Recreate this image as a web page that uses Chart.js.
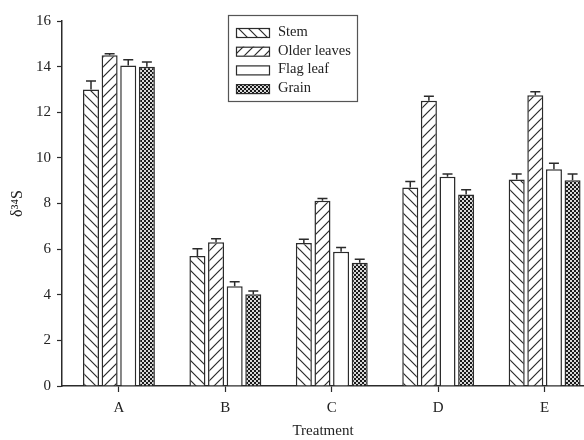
<!DOCTYPE html>
<html>
<head>
<meta charset="utf-8">
<script src="https://cdn.jsdelivr.net/npm/chart.js@4"></script>
<style>
  html, body { margin: 0; padding: 0; background: #fff; overflow: hidden; }
  #wrap { width: 584px; height: 440px; }
</style>
</head>
<body>
<div id="wrap"><canvas id="chart"></canvas></div>
<script>
// treatments on the x axis
const treatments = ["A", "B", "C", "D", "E"];
const yTicks = [0, 2, 4, 6, 8, 10, 12, 14, 16];

// mean d34S per tissue
const stem = [13.0, 5.7, 6.27, 8.7, 9.05];
const olderLeaves = [14.5, 6.3, 8.12, 12.5, 12.75];
const flagLeaf = [14.05, 4.37, 5.88, 9.17, 9.5];
const grain = [14.0, 4.02, 5.4, 8.4, 9.02];

// error bar (upper) size
const stemErr = [0.37, 0.32, 0.16, 0.26, 0.24];
const olderErr = [0.06, 0.16, 0.1, 0.2, 0.15];
const flagErr = [0.25, 0.2, 0.19, 0.12, 0.26];
const grainErr = [0.2, 0.14, 0.16, 0.2, 0.27];

const ink = "#2b2b2b";
const serif = "'Liberation Serif', 'Times New Roman', serif";

const makeTile = (size, draw) => {
  const c = document.createElement("canvas");
  c.width = size;
  c.height = size;
  const ctx = c.getContext("2d");
  ctx.fillStyle = "#fff";
  ctx.fillRect(0, 0, size, size);
  draw(ctx);
  return document.createElement("canvas").getContext("2d").createPattern(c, "repeat");
};

const hatch = (dir) =>
  makeTile(10, (ctx) => {
    ctx.strokeStyle = ink;
    ctx.lineWidth = 1.2;
    ctx.beginPath();
    if (dir > 0) {
      // "\" lines
      ctx.moveTo(-2, -2); ctx.lineTo(12, 12);
      ctx.moveTo(-2, 8); ctx.lineTo(2, 12);
      ctx.moveTo(8, -2); ctx.lineTo(12, 2);
    } else {
      // "/" lines
      ctx.moveTo(-2, 12); ctx.lineTo(12, -2);
      ctx.moveTo(-2, 2); ctx.lineTo(2, -2);
      ctx.moveTo(8, 12); ctx.lineTo(12, 8);
    }
    ctx.stroke();
  });

const checker = makeTile(4, (ctx) => {
  ctx.fillStyle = "#d8d8d8";
  ctx.fillRect(0, 0, 4, 4);
  ctx.fillStyle = "#1a1a1a";
  ctx.fillRect(0, 0, 2, 2);
  ctx.fillRect(2, 2, 2, 2);
});

const series = [
  { label: "Stem", values: stem, errs: stemErr, fill: hatch(1) },
  { label: "Older leaves", values: olderLeaves, errs: olderErr, fill: hatch(-1) },
  { label: "Flag leaf", values: flagLeaf, errs: flagErr, fill: "#fff" },
  { label: "Grain", values: grain, errs: grainErr, fill: checker },
];

const errorBars = {
  id: "errorBars",
  afterDatasetsDraw(chart) {
    const { ctx } = chart;
    const y = chart.scales.y;
    ctx.save();
    ctx.strokeStyle = ink;
    ctx.lineWidth = 1.5;
    chart.data.datasets.forEach((ds, di) => {
      chart.getDatasetMeta(di).data.forEach((bar, i) => {
        const top = y.getPixelForValue(ds.data[i].y + ds.errs[i]);
        ctx.beginPath();
        ctx.moveTo(bar.x, bar.y);
        ctx.lineTo(bar.x, top);
        ctx.moveTo(bar.x - 5, top);
        ctx.lineTo(bar.x + 5, top);
        ctx.stroke();
      });
    });
    ctx.restore();
  },
};

const boxLegend = {
  id: "boxLegend",
  afterDraw(chart) {
    const { ctx } = chart;
    ctx.save();
    ctx.strokeStyle = "#555";
    ctx.lineWidth = 1.2;
    ctx.strokeRect(228.5, 15.5, 129, 86);
    ctx.font = "14.5px " + serif;
    ctx.textBaseline = "middle";
    chart.data.datasets.forEach((ds, i) => {
      const yy = 32 + i * 18.7;
      ctx.fillStyle = ds.backgroundColor;
      ctx.fillRect(236, yy - 4, 33, 9);
      ctx.strokeStyle = ink;
      ctx.strokeRect(236.5, yy - 3.5, 33, 9);
      ctx.fillStyle = "#222";
      ctx.fillText(ds.label, 278, yy);
    });
    ctx.restore();
  },
};

const data = {
  datasets: series.map((s) => ({
    label: s.label,
    data: s.values.map((v, i) => ({ x: i, y: v })),
    errs: s.errs,
    backgroundColor: s.fill,
    borderColor: ink,
    borderWidth: 1.5,
    categoryPercentage: 0.7,
    barPercentage: 0.86,
  })),
};

const options = {
  responsive: true,
  maintainAspectRatio: false,
  animation: false,
  layout: { padding: { top: 21, right: 0, left: 0, bottom: 0 } },
  plugins: {
    legend: { display: false },
    tooltip: { enabled: false },
  },
  scales: {
    x: {
      type: "linear",
      offset: false,
      min: -0.535,
      max: 4.37,
      afterBuildTicks: (s) => {
        s.ticks = treatments.map((t, i) => ({ value: i }));
      },
      afterFit: (s) => { s.height = 54; },
      ticks: {
        callback: (v) => treatments[v],
        color: "#222",
        font: { family: serif, size: 15 },
        padding: 7,
        maxRotation: 0,
      },
      grid: { offset: false, drawOnChartArea: false, tickLength: 6, color: ink, tickWidth: 1.2 },
      border: { color: ink, width: 1.5 },
      title: {
        display: true,
        text: "Treatment",
        color: "#222",
        font: { family: serif, size: 15 },
        padding: { top: 9, bottom: 0 },
      },
    },
    y: {
      min: 0,
      max: 16,
      afterBuildTicks: (s) => {
        s.ticks = yTicks.map((v) => ({ value: v }));
      },
      afterFit: (s) => { s.width = 62; },
      ticks: {
        color: "#222",
        font: { family: serif, size: 15 },
        padding: 6,
      },
      grid: { drawOnChartArea: false, tickLength: 5, color: ink, tickWidth: 1.2 },
      border: { color: ink, width: 1.5 },
      title: {
        display: true,
        text: "δ³⁴S",
        color: "#222",
        font: { family: serif, size: 16 },
        padding: { top: 8, bottom: 0 },
      },
    },
  },
};

new Chart("chart", { type: "bar", data, options, plugins: [errorBars, boxLegend] });
</script>
</body>
</html>
